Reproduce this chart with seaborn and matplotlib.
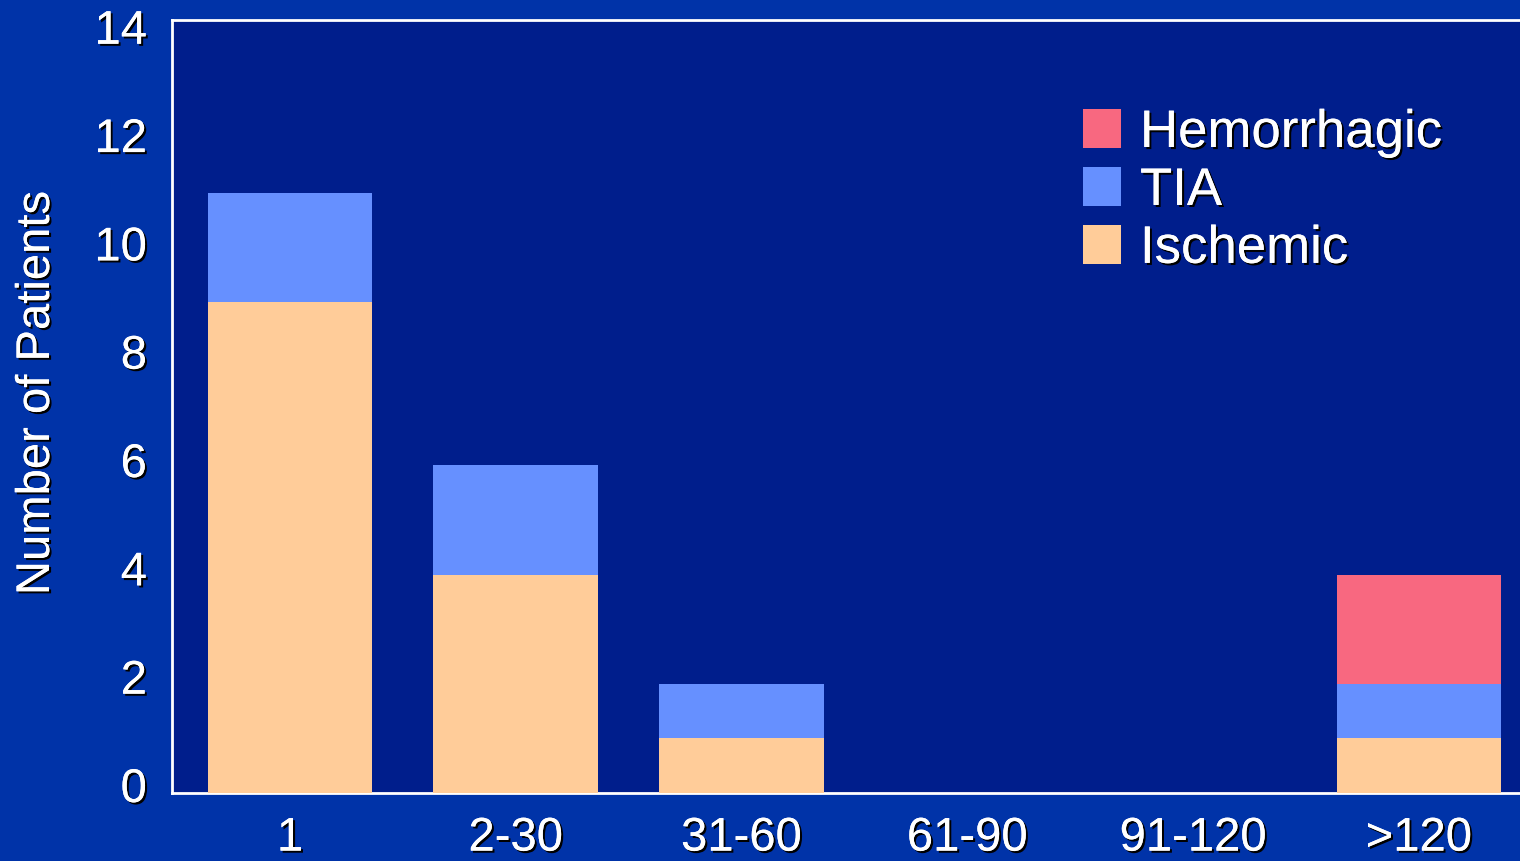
import matplotlib
matplotlib.use("Agg")
import matplotlib.pyplot as plt
import matplotlib.patheffects as pe
import matplotlib.transforms as mtrans
from matplotlib.patches import Patch
import numpy as np
import pandas as pd
import seaborn as sns

categories = ["1", "2-30", "31-60", "61-90", "91-120", ">120"]
ischemic = [9, 4, 1, 0, 0, 1]
tia = [2, 2, 1, 0, 0, 1]
hemorrhagic = [0, 0, 0, 0, 0, 2]
series_names = ["Hemorrhagic", "TIA", "Ischemic"]
yticks = [0, 2, 4, 6, 8, 10, 12, 14]

C_ISCH = "#FFCC99"
C_TIA = "#6690FF"
C_HEM = "#F86880"
FIG_BG = "#0033A8"
AX_BG = "#001E8C"

sns.set_theme(style="white")
plt.rcParams["font.family"] = ["Liberation Sans", "DejaVu Sans"]

shadow = [pe.withSimplePatchShadow(offset=(1.5, -1.5), shadow_rgbFace="black", alpha=1.0), pe.Normal()]

df = pd.DataFrame({
    "cat": categories,
    "isch": ischemic,
    "tia": tia,
    "hem": hemorrhagic,
})
df["lvl2"] = df["isch"] + df["tia"]
df["lvl3"] = df["lvl2"] + df["hem"]

fig = plt.figure(figsize=(15.2, 8.61), dpi=100, facecolor=FIG_BG)
ax = fig.add_axes([172 / 1520, (861 - 793) / 861, (1537 - 172) / 1520, (793 - 20) / 861])
ax.set_facecolor(AX_BG)

sns.barplot(data=df, x="cat", y="lvl3", color=C_HEM, saturation=1, width=0.73, ax=ax, order=categories)
sns.barplot(data=df, x="cat", y="lvl2", color=C_TIA, saturation=1, width=0.73, ax=ax, order=categories)
sns.barplot(data=df, x="cat", y="isch", color=C_ISCH, saturation=1, width=0.73, ax=ax, order=categories)
for p in ax.patches:
    p.set_edgecolor("none")
    p.set_zorder(3)

ax.set_xlim(-0.523, 5.523)
ax.set_ylim(0, 14.16)
ax.set_yticks(yticks)
ax.set_yticklabels([str(t) for t in yticks])

for side in ["left", "top", "bottom"]:
    ax.spines[side].set_visible(True)
    ax.spines[side].set_color("white")
    ax.spines[side].set_linewidth(2)
    ax.spines[side].set_zorder(2)
ax.spines["right"].set_visible(False)

ax.tick_params(axis="both", length=0, labelcolor="white", labelsize=34)
ax.tick_params(axis="y", pad=18)
ax.tick_params(axis="x", pad=17)
for lab in ax.get_xticklabels() + ax.get_yticklabels():
    lab.set_path_effects(shadow)
    lab.set_color("white")

# slight upward shift of y tick labels, as in the reference
for tick, v in zip(ax.yaxis.get_major_ticks(), yticks):
    dy = (8 - 6 * v / 14) / 100.0
    tick.label1.set_transform(tick.label1.get_transform()
                              + mtrans.ScaledTranslation(0, dy, fig.dpi_scale_trans))

ax.set_xlabel("")
ax.set_ylabel("Number of Patients", color="white", fontsize=34)
ax.yaxis.set_label_coords(-(172 - 37) / 1365, (793 - 393) / 773)
ax.yaxis.label.set_va("center")
ax.yaxis.label.set_path_effects(shadow)
ax.grid(False)

handles = [Patch(facecolor=C_HEM, edgecolor="none"),
           Patch(facecolor=C_TIA, edgecolor="none"),
           Patch(facecolor=C_ISCH, edgecolor="none")]
leg = ax.legend(handles, series_names, loc="upper left",
                bbox_to_anchor=(1083 / 1520, (861 - 108) / 861), bbox_transform=fig.transFigure,
                frameon=False, fontsize=38, handlelength=0.72, handleheight=0.75,
                handletextpad=0.36, labelspacing=0.15, borderpad=0, borderaxespad=0)
for t in leg.get_texts():
    t.set_color("white")
    t.set_path_effects(shadow)

fig.savefig("out.png", dpi=100, facecolor=FIG_BG)
